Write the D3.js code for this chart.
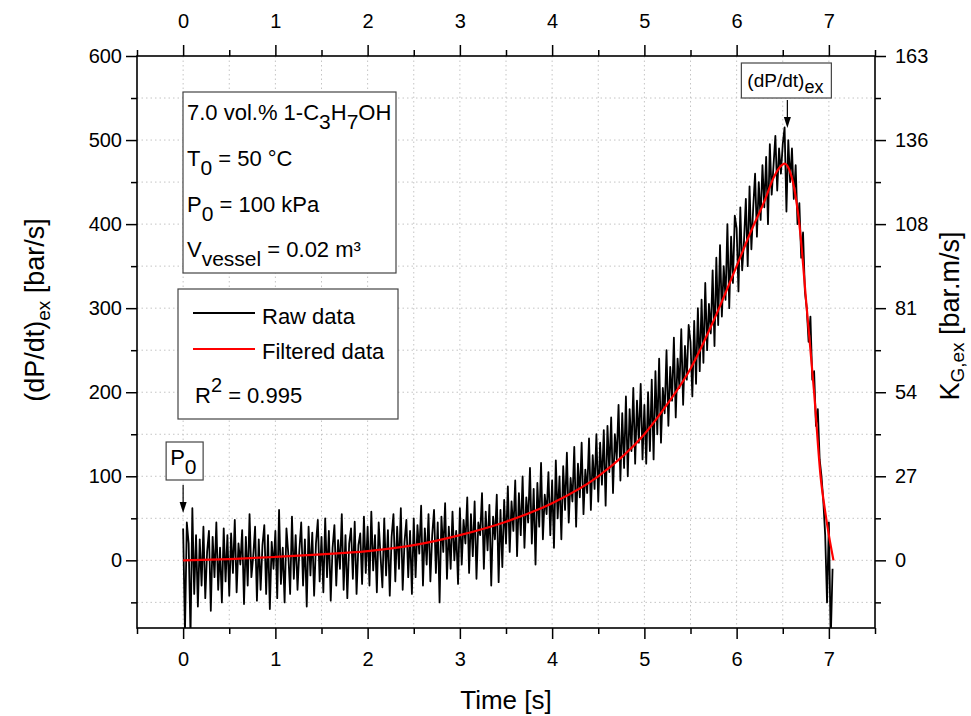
<!DOCTYPE html>
<html>
<head>
<meta charset="utf-8" />
<title>(dP/dt)ex vs time</title>
<script src="https://cdn.jsdelivr.net/npm/d3@7"></script>
<style>
	body { margin: 0; background: #fff; }
	text { font-family: Arial, "Liberation Sans", sans-serif; fill: #000; }
</style>
</head>
<body>
<svg id="chart" width="971" height="716"></svg>
<script>
// raw signal, sampled every 0.02 s from t = 0
const rawStart = 0;
const rawStep = 0.02;
const rawRate = [
	38, -85, 45, 20, -90, 62, -40, 30, -55, 25, -30, 40, -45, 10, 35, -60, 28, -20, 45, -35, 15, -50, 38, -25, 30,
	-42, 32, -15, 48, -38, 20, -5, 36, -52, 28, -30, 55, -20, 5, 40, -48, 25, -35, 18, 42, -40, 30, -58, 22, -10,
	35, -45, 60, -28, 15, -50, 38, 8, -40, 52, -22, 30, -35, 12, 45, -30, 25, -55, 40, -18, 33, -42, 20, 48, -25,
	28, -38, 50, -20, 35, -48, 15, 42, -30, 24, -10, 55, -35, 30, -45, 20, 38, -22, 46, -40, 18, 32, -28, 52, -15,
	40, -30, 58, -12, 30, -38, 45, 5, -32, 50, -18, 36, -42, 28, 55, -25, 40, -10, 62, -35, 22, 48, -20, 35, -40,
	50, -20, 42, 8, 65, -30, 38, -5, 55, -25, 30, 60, -15, 45, -50, 52, 10, 68, -22, 40, -10, 58, 0, 35, -28,
	62, -5, 48, 20, 75, -15, 55, 5, 70, -22, 45, 30, 80, -10, 58, 12, 66, -30, 52, 25, 78, -26, 60, -8, 72,
	20, 88, 10, 70, 35, 95, 5, 80, 30, 100, 15, 75, 45, 110, 20, 85, -5, 92, 40, 116, 25, 78, 55, 105, 30,
	95, 15, 119, 50, 100, 25, 112, 60, 128, 45, 98, 70, 135, 40, 115, 75, 140, 55, 108, 80, 145, 60, 125, 85, 150,
	70, 140, 90, 155, 65, 160, 105, 170, 80, 150, 120, 185, 95, 175, 110, 195, 100, 180, 130, 205, 115, 190, 140, 210, 120,
	185, 115, 200, 130, 215, 120, 225, 150, 240, 140, 205, 175, 250, 160, 230, 190, 265, 170, 240, 205, 275, 185, 255, 215, 280,
	260, 195, 285, 210, 300, 225, 310, 235, 330, 250, 305, 270, 345, 255, 360, 280, 375, 290, 350, 310, 400, 300, 385, 330, 410,
	395, 320, 420, 345, 380, 430, 350, 445, 370, 420, 460, 385, 450, 405, 470, 420, 480, 400, 495, 435, 470, 505, 440, 490, 460,
	495, 515, 415, 500, 450, 490, 430, 470, 400, 425, 360, 390, 320, 300, 260, 290, 215, 225, 160, 180, 120, 100, 70, 30, -50,
	45, -95, -10
];

// smoothed curve
const filteredTime = [0, 0.5, 1, 1.5, 2, 2.5, 3, 3.5, 4, 4.5, 5, 5.25, 5.5, 5.75, 6, 6.15, 6.3, 6.4, 6.47, 6.52, 6.57, 6.62, 6.68, 6.76, 6.84, 6.91, 6.96, 7.0, 7.05];
const filteredRate = [0, 1.5, 4, 7, 11, 18, 30, 46, 68, 100, 150, 186, 228, 285, 350, 390, 427, 455, 468, 472, 465, 445, 400, 300, 200, 100, 58, 30, 0];

const xMajorTicks = [0, 1, 2, 3, 4, 5, 6, 7];
const xMinorTicks = [-0.5, 0.5, 1.5, 2.5, 3.5, 4.5, 5.5, 6.5, 7.5];
const yMajorTicks = [0, 100, 200, 300, 400, 500, 600];
const yMinorTicks = [-50, 50, 150, 250, 350, 450, 550];
const kgTickLabels = ['0', '27', '54', '81', '108', '136', '163'];
const gridX = [0, 0.5, 1, 1.5, 2, 2.5, 3, 3.5, 4, 4.5, 5, 5.5, 6, 6.5, 7];
const gridY = [-50, 0, 50, 100, 150, 200, 250, 300, 350, 400, 450, 500, 550];

const p0Time = 0;
const peakTime = 6.55;

window.onload = function() {
	const svg = d3.select('#chart');
	const left = 137, right = 875, top = 56, bottom = 628;

	const xScale = d3.scaleLinear().domain([-0.5, 7.5]).range([left, right]);
	const yScale = d3.scaleLinear().domain([-80.5, 600]).range([bottom, top]);

	svg.append('defs').append('clipPath').attr('id', 'plotClip')
		.append('rect').attr('x', left).attr('y', top).attr('width', right - left).attr('height', bottom - top);

	// dotted grid
	const grid = svg.append('g').attr('class', 'grid');
	grid.selectAll('line.gx').data(gridX).enter().append('line')
		.attr('x1', d => xScale(d)).attr('x2', d => xScale(d))
		.attr('y1', top).attr('y2', bottom)
		.style('stroke', '#c4c4c4').style('stroke-width', 1).style('stroke-dasharray', '1.5,3');
	grid.selectAll('line.gy').data(gridY).enter().append('line')
		.attr('x1', left).attr('x2', right)
		.attr('y1', d => yScale(d)).attr('y2', d => yScale(d))
		.style('stroke', '#c4c4c4').style('stroke-width', 1).style('stroke-dasharray', '1.5,3');

	// data
	const plot = svg.append('g').attr('clip-path', 'url(#plotClip)');
	const rawLine = d3.line()
		.x((d, i) => xScale(rawStart + i * rawStep))
		.y(d => yScale(d));
	plot.append('path').datum(rawRate)
		.attr('d', rawLine)
		.style('fill', 'none').style('stroke', '#000').style('stroke-width', 1.8).style('stroke-linejoin', 'round');

	const filtLine = d3.line()
		.x((d, i) => xScale(filteredTime[i]))
		.y(d => yScale(d))
		.curve(d3.curveMonotoneX);
	plot.append('path').datum(filteredRate)
		.attr('d', filtLine)
		.style('fill', 'none').style('stroke', '#ff0000').style('stroke-width', 2.2);

	// axes
	function styleAxis(g) {
		g.select('.domain').remove();
		g.selectAll('line').style('stroke', '#000').style('stroke-width', 1.5);
		g.selectAll('text').style('font-size', '20px').style('font-family', 'Arial, "Liberation Sans", sans-serif');
	}
	svg.append('g').attr('transform', 'translate(0,' + bottom + ')')
		.call(d3.axisBottom(xScale).tickValues(xMajorTicks).tickSize(11).tickPadding(13)).call(styleAxis);
	svg.append('g').attr('transform', 'translate(0,' + bottom + ')')
		.call(d3.axisBottom(xScale).tickValues(xMinorTicks).tickSize(6).tickFormat('')).call(styleAxis);
	svg.append('g').attr('transform', 'translate(0,' + top + ')')
		.call(d3.axisTop(xScale).tickValues(xMajorTicks).tickSize(11).tickPadding(17)).call(styleAxis);
	svg.append('g').attr('transform', 'translate(0,' + top + ')')
		.call(d3.axisTop(xScale).tickValues(xMinorTicks).tickSize(6).tickFormat('')).call(styleAxis);
	svg.append('g').attr('transform', 'translate(' + left + ',0)')
		.call(d3.axisLeft(yScale).tickValues(yMajorTicks).tickSize(11).tickPadding(4)).call(styleAxis);
	svg.append('g').attr('transform', 'translate(' + left + ',0)')
		.call(d3.axisLeft(yScale).tickValues(yMinorTicks).tickSize(6).tickFormat('')).call(styleAxis);
	svg.append('g').attr('transform', 'translate(' + right + ',0)')
		.call(d3.axisRight(yScale).tickValues(yMajorTicks).tickSize(11).tickPadding(9)
			.tickFormat((d, i) => kgTickLabels[i])).call(styleAxis);
	svg.append('g').attr('transform', 'translate(' + right + ',0)')
		.call(d3.axisRight(yScale).tickValues(yMinorTicks).tickSize(6).tickFormat('')).call(styleAxis);

	svg.append('rect').attr('x', left).attr('y', top).attr('width', right - left).attr('height', bottom - top)
		.style('fill', 'none').style('stroke', '#000').style('stroke-width', 1.6);

	// axis titles
	svg.append('text').attr('x', (left + right) / 2).attr('y', 709)
		.attr('text-anchor', 'middle').style('font-size', '26px').text('Time [s]');

	const yTitle = svg.append('text').attr('transform', 'translate(44,310) rotate(-90)')
		.attr('text-anchor', 'middle').style('font-size', '27px');
	yTitle.append('tspan').text('(dP/dt)');
	yTitle.append('tspan').attr('dy', 6).style('font-size', '19px').text('ex');
	yTitle.append('tspan').attr('dy', -6).text(' [bar/s]');

	const kTitle = svg.append('text').attr('transform', 'translate(959,316) rotate(-90)')
		.attr('text-anchor', 'middle').style('font-size', '27px');
	kTitle.append('tspan').text('K');
	kTitle.append('tspan').attr('dy', 5).style('font-size', '19px').text('G,ex');
	kTitle.append('tspan').attr('dy', -5).text(' [bar.m/s]');

	// conditions box
	svg.append('rect').attr('x', 183).attr('y', 92).attr('width', 213).attr('height', 181)
		.style('fill', '#fff').style('stroke', '#444').style('stroke-width', 1.2);
	const info = svg.append('g').style('font-size', '22px');
	let t1 = info.append('text').attr('x', 187).attr('y', 120);
	t1.append('tspan').text('7.0 vol.% 1-C');
	t1.append('tspan').attr('dy', 9).style('font-size', '21px').text('3');
	t1.append('tspan').attr('dy', -9).text('H');
	t1.append('tspan').attr('dy', 9).style('font-size', '21px').text('7');
	t1.append('tspan').attr('dy', -9).text('OH');
	let t2 = info.append('text').attr('x', 187).attr('y', 166);
	t2.append('tspan').text('T');
	t2.append('tspan').attr('dy', 9).style('font-size', '21px').text('0');
	t2.append('tspan').attr('dy', -9).text(' = 50 °C');
	let t3 = info.append('text').attr('x', 187).attr('y', 212);
	t3.append('tspan').text('P');
	t3.append('tspan').attr('dy', 9).style('font-size', '21px').text('0');
	t3.append('tspan').attr('dy', -9).text(' = 100 kPa');
	let t4 = info.append('text').attr('x', 187).attr('y', 257);
	t4.append('tspan').text('V');
	t4.append('tspan').attr('dy', 9).style('font-size', '21px').text('vessel');
	t4.append('tspan').attr('dy', -9).text(' = 0.02 m³');

	// legend
	svg.append('rect').attr('x', 178).attr('y', 289).attr('width', 220).attr('height', 130)
		.style('fill', '#fff').style('stroke', '#444').style('stroke-width', 1.2);
	svg.append('line').attr('x1', 193).attr('x2', 255).attr('y1', 313).attr('y2', 313)
		.style('stroke', '#000').style('stroke-width', 2.2);
	svg.append('line').attr('x1', 193).attr('x2', 255).attr('y1', 349).attr('y2', 349)
		.style('stroke', '#ff0000').style('stroke-width', 2.2);
	svg.append('text').attr('x', 262).attr('y', 324).style('font-size', '22px').text('Raw data');
	svg.append('text').attr('x', 262).attr('y', 359).style('font-size', '22px').text('Filtered data');
	const r2 = svg.append('text').attr('x', 195).attr('y', 403).style('font-size', '22px');
	r2.append('tspan').text('R');
	r2.append('tspan').attr('dy', -11).style('font-size', '20px').text('2');
	r2.append('tspan').attr('dy', 11).text(' = 0.995');

	// arrows
	function arrow(xp, y0, y1) {
		svg.append('line').attr('x1', xp).attr('x2', xp).attr('y1', y0).attr('y2', y1 - 8)
			.style('stroke', '#000').style('stroke-width', 1.2);
		svg.append('path').attr('d', 'M' + (xp - 3.5) + ',' + (y1 - 11) + 'L' + (xp + 3.5) + ',' + (y1 - 11) + 'L' + xp + ',' + y1 + 'Z')
			.style('fill', '#000');
	}

	const xp0 = xScale(p0Time);
	svg.append('rect').attr('x', xp0 - 17).attr('y', 442).attr('width', 37).attr('height', 38)
		.style('fill', '#fff').style('stroke', '#444').style('stroke-width', 1.2);
	const p0 = svg.append('text').attr('x', xp0 - 13).attr('y', 465).style('font-size', '22px');
	p0.append('tspan').text('P');
	p0.append('tspan').attr('dy', 9).style('font-size', '21px').text('0');
	arrow(xp0, 485, 513);

	const xpk = xScale(peakTime);
	svg.append('rect').attr('x', xpk - 46).attr('y', 63).attr('width', 90).attr('height', 35)
		.style('fill', '#fff').style('stroke', '#444').style('stroke-width', 1.2);
	const pk = svg.append('text').attr('x', xpk - 40).attr('y', 87).style('font-size', '19px');
	pk.append('tspan').text('(dP/dt)');
	pk.append('tspan').attr('dy', 6).style('font-size', '18px').text('ex');
	arrow(xpk, 100, 128);
};
</script>
</body>
</html>
